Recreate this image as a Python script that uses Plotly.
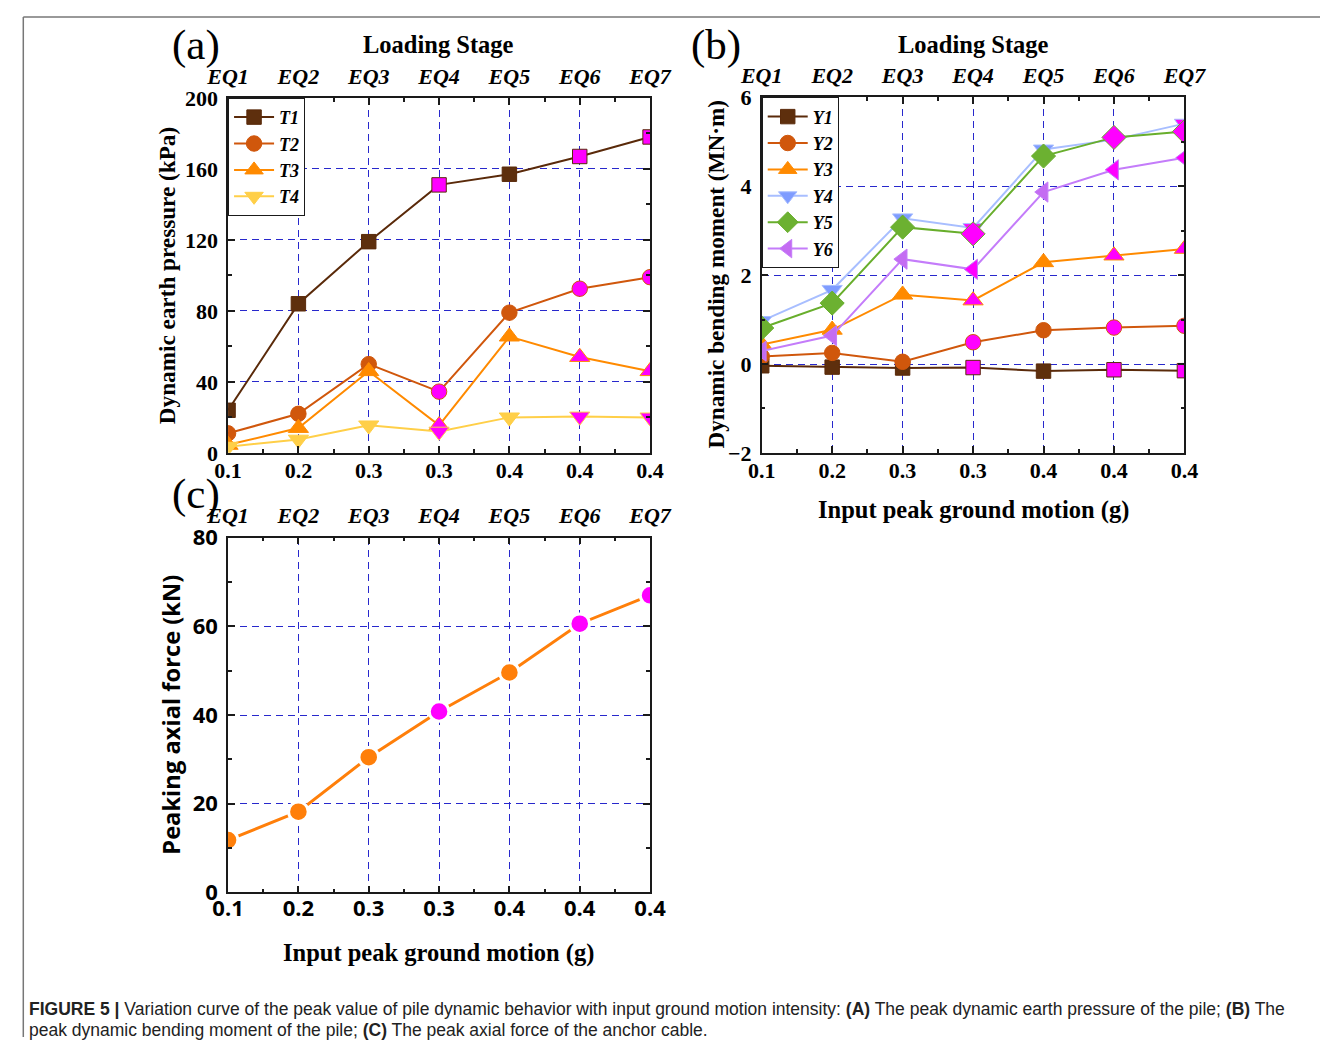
import plotly.graph_objects as go

# ---- data -------------------------------------------------------------
stages = ["EQ1", "EQ2", "EQ3", "EQ4", "EQ5", "EQ6", "EQ7"]
pga_labels = ["0.1", "0.2", "0.3", "0.3", "0.4", "0.4", "0.4"]
highlight_stages = ["EQ4", "EQ6", "EQ7"]

# (a) peak dynamic earth pressure, kPa
T1 = [24, 84, 119, 151, 157, 167, 178]
T2 = [11, 22, 50, 34.5, 79, 92.5, 99]
T3 = [4.5, 14, 46, 15.5, 65.5, 54, 46]
T4 = [3.5, 7.5, 15.5, 12, 20, 20.5, 20]

# (b) peak dynamic bending moment, MN·m
Y1 = [-0.04, -0.07, -0.09, -0.08, -0.16, -0.13, -0.15]
Y2 = [0.17, 0.25, 0.05, 0.49, 0.76, 0.82, 0.86]
Y3 = [0.44, 0.77, 1.56, 1.43, 2.29, 2.44, 2.59]
Y4 = [0.97, 1.67, 3.28, 3.06, 4.83, 5.05, 5.41]
Y5 = [0.81, 1.37, 3.08, 2.93, 4.68, 5.10, 5.23]
Y6 = [0.29, 0.64, 2.36, 2.13, 3.87, 4.37, 4.64]

# (c) peak axial force of the anchor cable, kN
F = [11.8, 18.2, 30.5, 40.8, 49.6, 60.6, 67.0]

# ---- page geometry ------------------------------------------------------
W, H = 1342, 1051
# positions below are given on a design grid that sits inside a page inset
FIT = 1302 / 1342
INSET_X, INSET_Y = 20.0, 15.7


def px_x(p):
    return min(max((p - INSET_X) / FIT / W, 0.0), 1.0)


def px_y(p):
    return min(max(1 - (p - INSET_Y) / FIT / H, 0.0), 1.0)


def z(v):
    return v / FIT


SERIF = "Liberation Serif"
SANS = "Open Sans"
GRID = "#2828CC"
HL = "#FF00FF"
AXIS = "#1a1a1a"

xpos = list(range(len(stages)))


def marker_colors(base):
    return [HL if s in highlight_stages else base for s in stages]


fig = go.Figure()


def add_series(name, y, line_color, fill, symbol, size, xa, ya, legend,
               edge=None, edge_w=1.0, show=True, lw=2):
    fig.add_trace(go.Scatter(
        x=xpos, y=y, name=name, mode="lines+markers",
        line=dict(color=line_color, width=lw),
        marker=dict(symbol=symbol, size=z(size), color=marker_colors(fill),
                    line=dict(color=edge or line_color, width=edge_w)),
        xaxis=xa, yaxis=ya, legend=legend, showlegend=show,
        cliponaxis=True,
    ))


# panel (a)
add_series("T1", T1, "#5A2A0A", "#5E2F0D", "square", 14, "x", "y", "legend")
add_series("T2", T2, "#D0570C", "#D0570C", "circle", 15, "x", "y", "legend")
add_series("T3", T3, "#FF8A00", "#FF8A00", "triangle-up", 17, "x", "y", "legend")
add_series("T4", T4, "#FFCF48", "#FFCF48", "triangle-down", 17, "x", "y", "legend")

# panel (b)
add_series("Y1", Y1, "#5A2A0A", "#5E2F0D", "square", 14, "x2", "y2", "legend2")
add_series("Y2", Y2, "#D0570C", "#D0570C", "circle", 15, "x2", "y2", "legend2")
add_series("Y3", Y3, "#FF8A00", "#FF8A00", "triangle-up", 17, "x2", "y2", "legend2")
add_series("Y4", Y4, "#A8BEFF", "#7F9CFF", "triangle-down", 17, "x2", "y2", "legend2")
add_series("Y5", Y5, "#68AE2C", "#6CB131", "diamond", 18, "x2", "y2", "legend2")
add_series("Y6", Y6, "#C47CFA", "#C46CF2", "triangle-left", 17, "x2", "y2", "legend2")

# panel (c) — line broken around each marker
add_series("Axial force", F, "#FF7F0A", "#FF7F0A", "circle", 19, "x3", "y3",
           "legend", edge="white", edge_w=3, show=False, lw=3)

# empty traces so the stage axes along the top are drawn
for xa, ya in (("x4", "y"), ("x5", "y2"), ("x6", "y3")):
    fig.add_trace(go.Scatter(x=[], y=[], xaxis=xa, yaxis=ya,
                             showlegend=False, hoverinfo="skip"))


def bottom_axis(x0, x1, anchor, font, standoff):
    return dict(
        domain=[px_x(x0), px_x(x1)], anchor=anchor, range=[0, len(stages) - 1],
        tickmode="array", tickvals=xpos, ticktext=pga_labels,
        tickfont=font, ticks="inside", ticklen=7, tickwidth=1.5, tickcolor=AXIS,
        showline=True, linecolor=AXIS, linewidth=1.5, mirror="ticks",
        showgrid=True, gridcolor=GRID, gridwidth=1.2, griddash="7px,5px",
        zeroline=False, ticklabelstandoff=standoff,
        minor=dict(tickmode="linear", tick0=0, dtick=0.5, ticks="inside",
                   ticklen=4, tickwidth=1.5, tickcolor=AXIS, showgrid=False),
    )


def top_axis(base, anchor, font, standoff):
    return dict(
        overlaying=base, side="top", anchor=anchor, range=[0, len(stages) - 1],
        tickmode="array", tickvals=xpos, ticktext=stages, tickfont=font,
        ticks="", showline=False, showgrid=False, zeroline=False,
        ticklabelstandoff=standoff,
    )


def left_axis(y0, y1, anchor, rng, dtick, font):
    return dict(
        domain=[px_y(y1), px_y(y0)], anchor=anchor, range=rng,
        tickmode="linear", tick0=rng[0], dtick=dtick,
        tickfont=font, ticks="inside", ticklen=7, tickwidth=1.5, tickcolor=AXIS,
        showline=True, linecolor=AXIS, linewidth=1.5, mirror="ticks",
        showgrid=True, gridcolor=GRID, gridwidth=1.2, griddash="7px,5px",
        zeroline=False, ticklabelstandoff=4,
        minor=dict(tickmode="linear", tick0=rng[0], dtick=dtick / 2,
                   ticks="inside", ticklen=4, tickwidth=1.5, tickcolor=AXIS,
                   showgrid=False),
    )


serif_tick = dict(family=SERIF, size=22, color="black", weight="bold")
sans_tick = dict(family=SANS, size=22, color="black", weight="bold")
stage_font = dict(family=SERIF, size=22, color="black", weight="bold",
                  style="italic")
legend_font = dict(family=SERIF, size=18, color="black", weight="bold",
                   style="italic")

fig.update_layout(
    width=W, height=H,
    margin=dict(l=0, r=0, t=0, b=0),
    paper_bgcolor="white", plot_bgcolor="white",
    xaxis=bottom_axis(226.7, 650, "y", serif_tick, -3),
    yaxis=left_axis(97.5, 452, "x", [0, 200], 40, serif_tick),
    xaxis2=bottom_axis(762, 1186, "y2", serif_tick, -3),
    yaxis2=left_axis(97, 452, "x2", [-2, 6], 2, serif_tick),
    xaxis3=bottom_axis(226.7, 650, "y3", sans_tick, -5),
    yaxis3=left_axis(536.7, 891, "x3", [0, 80], 20, sans_tick),
    xaxis4=top_axis("x", "y", stage_font, 9),
    xaxis5=top_axis("x2", "y2", stage_font, 9),
    xaxis6=top_axis("x3", "y3", stage_font, 9),
    legend=dict(x=px_x(226.7), y=px_y(97.5), xanchor="left", yanchor="top",
                bgcolor="white", bordercolor=AXIS, borderwidth=1,
                font=legend_font, tracegroupgap=0, itemwidth=40),
    legend2=dict(x=px_x(762), y=px_y(97), xanchor="left", yanchor="top",
                 bgcolor="white", bordercolor=AXIS, borderwidth=1,
                 font=legend_font, tracegroupgap=0, itemwidth=40),
    showlegend=True,
)


def label(text, x, y, font, angle=0, xanchor="center"):
    fig.add_annotation(text=text, x=px_x(x), y=px_y(y), xref="paper",
                       yref="paper", showarrow=False, font=font,
                       textangle=angle, xanchor=xanchor, yanchor="middle")


title_font = dict(family=SERIF, size=24.5, color="black", weight="bold")
ytitle_font = dict(family=SERIF, size=23.2, color="black", weight="bold")
panel_font = dict(family=SERIF, size=43, color="black")

# panel letters
label("(a)", 195, 45, panel_font)
label("(b)", 716, 45, panel_font)
label("(c)", 195, 493, panel_font)

# stage-axis titles
label("Loading Stage", 438, 44, title_font)
label("Loading Stage", 974, 44, title_font)

# value-axis titles
label("Dynamic earth pressure (kPa)", 165, 275, ytitle_font, angle=-90)
label("Dynamic bending moment (MN·m)", 716, 274, ytitle_font, angle=-90)
label("Peaking axial force (kN)", 170, 714,
      dict(family=SANS, size=23.7, color="black", weight="bold"), angle=-90)
label("Input peak ground motion (g)", 974, 509, title_font)
label("Input peak ground motion (g)", 438, 951, title_font)

# caption
cap_font = dict(family="Liberation Sans", size=17.5, color="#222222")
label("<b>FIGURE 5 |</b> Variation curve of the peak value of pile dynamic "
      "behavior with input ground motion intensity: <b>(A)</b> The peak "
      "dynamic earth pressure of the pile; <b>(B)</b> The",
      25, 1007.5, cap_font, xanchor="left")
label("peak dynamic bending moment of the pile; <b>(C)</b> The peak axial "
      "force of the anchor cable.", 25, 1028.5, cap_font, xanchor="left")

# page frame
fig.add_shape(type="line", xref="paper", yref="paper", x0=px_x(10) + 0.001,
              x1=1, y0=px_y(10) - 0.001, y1=px_y(10) - 0.001,
              line=dict(color="#777777", width=1.5))
fig.add_shape(type="line", xref="paper", yref="paper", x0=px_x(10) + 0.001,
              x1=px_x(10) + 0.001, y0=px_y(10) - 0.001, y1=0,
              line=dict(color="#777777", width=1.5))

fig.write_html("out.html")
